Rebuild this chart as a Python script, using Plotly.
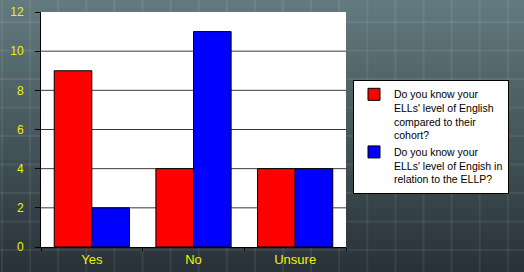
import plotly.graph_objects as go

categories = ["Yes", "No", "Unsure"]
series1_name = "Do you know your<br>ELLs' level of English<br>compared to their<br>cohort?"
series2_name = "Do you know your<br>ELLs' level of Engish in<br>relation to the ELLP?"
series1_values = [9, 4, 4]
series2_values = [2, 11, 4]
y_ticks = [0, 2, 4, 6, 8, 10, 12]

W, H = 524, 272
ML, MR, MT, MB = 41, 178, 12, 25
PW, PH = W - ML - MR, H - MT - MB

FONT = "Arial, Liberation Sans, sans-serif"
YELLOW = "#f2f200"

fig = go.Figure()
fig.add_trace(go.Bar(x=categories, y=series1_values, name=series1_name,
                     marker=dict(color="#ff0000", line=dict(color="black", width=1))))
fig.add_trace(go.Bar(x=categories, y=series2_values, name=series2_name,
                     marker=dict(color="#0000ff", line=dict(color="black", width=1))))

shapes = []
# background vertical gradient (decorative)
top = (98, 122, 127)
bot = (40, 50, 56)
n = 34
def px2x(p):
    return (p - ML) / PW
def py2y(p):
    return 1 - (p - MT) / PH
for i in range(n):
    t = i / (n - 1)
    c = tuple(int(round(top[k] + (bot[k] - top[k]) * t)) for k in range(3))
    y0 = H * i / n
    y1 = H * (i + 1) / n + 1
    shapes.append(dict(type="rect", xref="paper", yref="paper", layer="below",
                       x0=px2x(0), x1=px2x(W), y0=py2y(y1), y1=py2y(y0),
                       fillcolor="rgb(%d,%d,%d)" % c, line=dict(width=0)))
# faint decorative background grid
k = 0
while 2 + 28.1 * k < W:
    xp = 2 + 28.1 * k
    shapes.append(dict(type="line", xref="paper", yref="paper", layer="below",
                       x0=px2x(xp), x1=px2x(xp), y0=py2y(H), y1=py2y(0),
                       line=dict(color="rgba(255,255,255,0.07)", width=2)))
    k += 1
k = 0
while 22 + 28.5 * k < H:
    yp = 22 + 28.5 * k
    shapes.append(dict(type="line", xref="paper", yref="paper", layer="below",
                       x0=px2x(0), x1=px2x(W), y0=py2y(yp), y1=py2y(yp),
                       line=dict(color="rgba(255,255,255,0.07)", width=2)))
    k += 1
# white plot area
shapes.append(dict(type="rect", xref="paper", yref="paper", layer="below",
                   x0=0, x1=1, y0=0, y1=1, fillcolor="white", line=dict(width=0)))
# horizontal gridlines (skip top/bottom)
for v in y_ticks[1:-1]:
    shapes.append(dict(type="line", xref="paper", yref="y", layer="below",
                       x0=0, x1=1, y0=v, y1=v, line=dict(color="#3a3a3a", width=1)))

fig.update_layout(
    width=W, height=H,
    margin=dict(l=ML, r=MR, t=MT, b=MB, pad=0, autoexpand=False),
    paper_bgcolor="#46565c",
    plot_bgcolor="rgba(0,0,0,0)",
    barmode="group", bargap=0.26, bargroupgap=0,
    font=dict(family=FONT),
    shapes=shapes,
    showlegend=True,
    legend=dict(
        xref="container", yref="container",
        x=353 / W, xanchor="left",
        y=1 - 80 / H, yanchor="top",
        bgcolor="white", bordercolor="black", borderwidth=1,
        font=dict(family=FONT, size=10.5, color="black"),
        tracegroupgap=0, itemwidth=30, valign="top",
    ),
    xaxis=dict(
        showline=True, linecolor="black", linewidth=1,
        ticks="outside", tickson="boundaries", ticklen=3, tickcolor="black",
        tickfont=dict(family=FONT, size=13, color=YELLOW),
        showgrid=False, zeroline=False, automargin=False,
    ),
    yaxis=dict(
        range=[0, 12], tickvals=y_ticks,
        showline=True, linecolor="black", linewidth=1,
        ticks="outside", ticklen=5, tickcolor="black",
        ticklabelstandoff=9,
        tickfont=dict(family=FONT, size=12, color=YELLOW),
        showgrid=False, zeroline=False, automargin=False,
    ),
)

fig.write_html("out.html", config={"displayModeBar": False},
               post_script="document.body.style.margin='0px';document.body.style.overflow='hidden';")
